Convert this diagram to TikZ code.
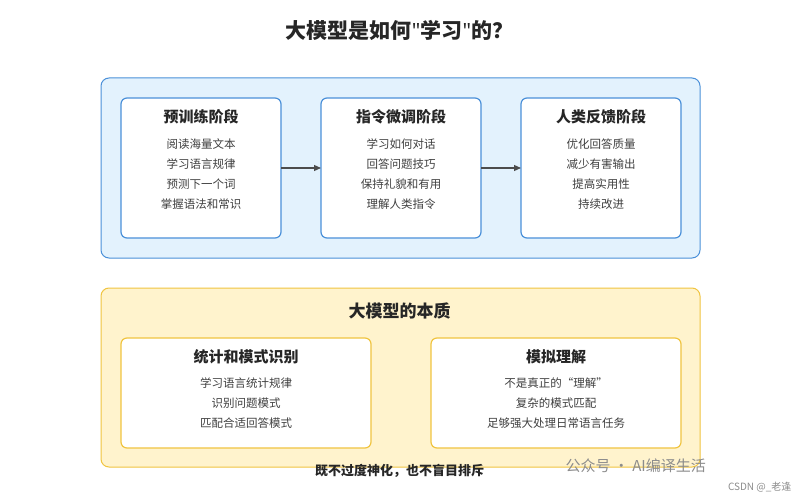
\documentclass[tikz,border=0pt]{standalone}
\usepackage{fontspec}
\setmainfont{Noto Sans CJK SC}
\newfontfamily\latinf{Noto Sans}
\usetikzlibrary{arrows.meta}
\definecolor{bl}{RGB}{74,144,217}
\definecolor{blf}{RGB}{227,242,253}
\definecolor{yl}{RGB}{240,196,64}
\definecolor{ylf}{RGB}{255,243,205}
\begin{document}
\begin{tikzpicture}[x=1pt,y=-1pt,
  outerb/.style={draw=#1,rounded corners=8pt,line width=1pt},
  card/.style={draw=#1,fill=white,rounded corners=6pt,line width=1.2pt},
  ttl/.style={font=\bfseries\fontsize{15}{17}\selectfont,text=black!85},
  itm/.style={font=\fontsize{11.5}{20}\selectfont,text=black!75,align=center},
  arr/.style={-{Triangle[length=7pt,width=6pt]},line width=1.2pt,draw=black!70}]
\useasboundingbox[fill=white] (0,0) rectangle (799,500);
\node[font=\bfseries\fontsize{21}{24}\selectfont,text=black!85] (title) at (399.5,30) {大模型是如何{\latinf\symbol{34}}学习{\latinf\symbol{34}}的？};
\draw[outerb=bl,fill=blf] (101,78) rectangle (700,258);
\foreach \n/\x/\t/\a/\b/\c/\d in {p1/121/预训练阶段/阅读海量文本/学习语言规律/预测下一个词/掌握语法和常识,
  p2/321/指令微调阶段/学习如何对话/回答问题技巧/保持礼貌和有用/理解人类指令,
  p3/521/人类反馈阶段/优化回答质量/减少有害输出/提高实用性/持续改进}{
  \draw[card=bl] (\x,98) rectangle ++(160,140);
  \node[ttl] (\n t) at (\x+80,117) {\t};
  \node[itm] (\n i) at (\x+80,174) {\a\\\b\\\c\\\d};
  \coordinate (\n l) at (\x,168); \coordinate (\n r) at (\x+160,168);
}
\draw[arr] (p1r) -- (p2l);
\draw[arr] (p2r) -- (p3l);
\draw[outerb=yl,fill=ylf] (101,288) rectangle (700,467);
\node[ttl,font=\bfseries\fontsize{17}{19}\selectfont] (ess) at (399.5,311) {大模型的本质};
\draw[card=yl] (121,338) rectangle (371,448);
\node[ttl] (s1t) at (246,357) {统计和模式识别};
\node[itm] (s1i) at (246,403) {学习语言统计规律\\识别问题模式\\匹配合适回答模式};
\draw[card=yl] (431,338) rectangle (681,448);
\node[ttl] (s2t) at (556,357) {模拟理解};
\node[itm] (s2i) at (556,403) {不是真正的“理解”\\复杂的模式匹配\\足够强大处理日常语言任务};
\node[font=\bfseries\fontsize{13}{15}\selectfont,text=black!85] (bot) at (399.5,471) {既不过度神化，也不盲目排斥};
\node[font=\fontsize{15}{17}\selectfont,text=black!45,anchor=west] (wm) at (562,466) {公众号 · AI编译生活};
\node[font=\fontsize{10}{12}\selectfont,text=black!45,anchor=east] (csdn) at (795,487) {CSDN @\_老逢};
\end{tikzpicture}
\end{document}
